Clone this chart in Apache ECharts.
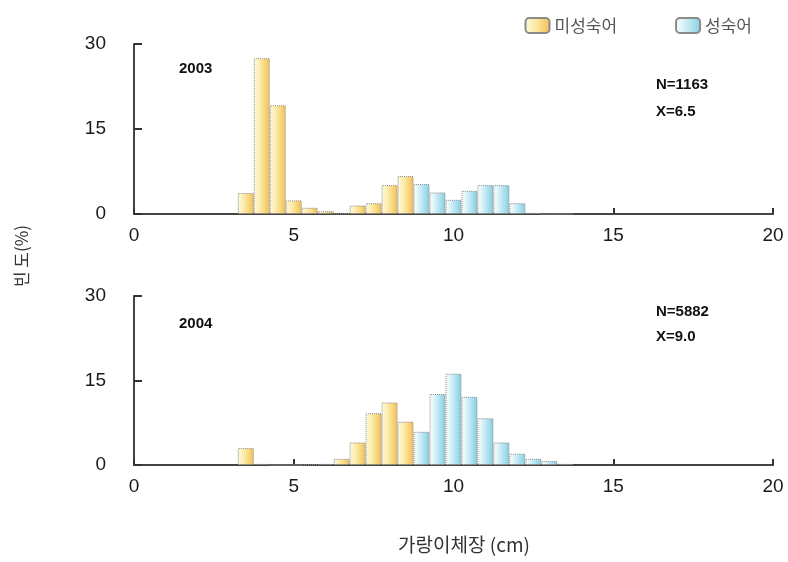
<!DOCTYPE html>
<html>
<head>
<meta charset="utf-8">
<script src="https://cdn.jsdelivr.net/npm/echarts@6/dist/echarts.min.js"></script>
<style>
html,body{margin:0;padding:0;background:#fff;}
#c{width:788px;height:562px;}
</style>
</head>
<body>
<div id="c"></div>
<script>
// Bin centres (cm), 0.5 cm classes
var binsImmature = [3.5, 4.0, 4.5, 5.0, 5.5, 6.0, 6.5, 7.0, 7.5, 8.0, 8.5];
var binsMature   = [9.0, 9.5, 10.0, 10.5, 11.0, 11.5, 12.0, 12.5, 13.0, 13.5];
// Frequencies (%)
var immature2003 = [3.7, 27.5, 19.2, 2.4, 1.1, 0.5, 0.1, 1.5, 1.9, 5.1, 6.7];
var mature2003   = [5.3, 3.8, 2.5, 4.1, 5.1, 5.1, 1.9, 0.2, 0, 0];
var immature2004 = [3.0, 0.2, 0, 0, 0.1, 0.2, 1.1, 4.0, 9.2, 11.1, 7.7];
var mature2004   = [5.9, 12.6, 16.2, 12.1, 8.3, 4.0, 2.0, 1.1, 0.7, 0.2];
var xTicks = [0, 5, 10, 15, 20];
var yTicks = [0, 15, 30];
var seriesNames = ['미성숙어', '성숙어'];
var years = ['2003', '2004'];
var stats = [['N=1163', 'X=6.5'], ['N=5882', 'X=9.0']];

function pairs(bins, vals) { return bins.map(function (b, i) { return [b, vals[i]]; }); }

var yellow = {type:'linear', x:0, y:0, x2:1, y2:0, colorStops:[{offset:0,color:'#fffbe2'},{offset:0.45,color:'#fce8a0'},{offset:1,color:'#f4bd55'}]};
var blue = {type:'linear', x:0, y:0, x2:1, y2:0, colorStops:[{offset:0,color:'#ffffff'},{offset:0.45,color:'#c8ecf4'},{offset:1,color:'#86cde2'}]};

var chart = echarts.init(document.getElementById('c'));

function xAxis(gi) {
  return {
    type:'value', gridIndex:gi, min:xTicks[0], max:xTicks[xTicks.length-1], interval:5,
    axisLine:{show:true, lineStyle:{color:'#444', width:2}},
    axisTick:{show:true, inside:true, length:6, lineStyle:{color:'#333', width:2}},
    axisLabel:{color:'#1a1a1a', fontSize:19, fontFamily:'Liberation Sans', margin:12},
    splitLine:{show:false}
  };
}
function yAxis(gi) {
  return {
    type:'value', gridIndex:gi, min:yTicks[0], max:yTicks[yTicks.length-1], interval:15,
    axisLine:{show:true, lineStyle:{color:'#444', width:2}},
    axisTick:{show:true, inside:true, length:8, lineStyle:{color:'#333', width:2}},
    axisLabel:{color:'#1a1a1a', fontSize:19, fontFamily:'Liberation Sans', margin:28},
    splitLine:{show:false}
  };
}
function bar(name, gi, data, color) {
  return {
    name:name, type:'bar', xAxisIndex:gi, yAxisIndex:gi, data:data,
    barWidth:16, barGap:'-100%',
    itemStyle:{color:color, borderColor:'#8a8a8a', borderWidth:1, borderType:'dotted'}
  };
}

var annFont = 'bold 15px "Liberation Sans"';
var graphics = [];
graphics.push({type:'text', left:179, top:61, style:{text:years[0], font:annFont, fill:'#111'}});
graphics.push({type:'text', left:179, top:316, style:{text:years[1], font:annFont, fill:'#111'}});
graphics.push({type:'text', left:656, top:77, style:{text:stats[0][0], font:annFont, fill:'#111'}});
graphics.push({type:'text', left:656, top:104, style:{text:stats[0][1], font:annFont, fill:'#111'}});
graphics.push({type:'text', left:656, top:304, style:{text:stats[1][0], font:annFont, fill:'#111'}});
graphics.push({type:'text', left:656, top:329, style:{text:stats[1][1], font:annFont, fill:'#111'}});
graphics.push({type:'text', x:22, y:256, rotation:Math.PI/2, style:{text:'빈 도(%)', font:'17px "Noto Sans CJK KR"', fill:'#333', align:'center', verticalAlign:'middle'}});
graphics.push({type:'text', x:464, y:545, style:{text:'가랑이체장 (cm)', font:'19px "Noto Sans CJK KR"', fill:'#333', align:'center', verticalAlign:'middle'}});

chart.setOption({
  animation:false,
  backgroundColor:'#fff',
  legend:{
    top:12, right:31, itemGap:58, itemWidth:24, itemHeight:15,
    data:[{name:seriesNames[0], itemStyle:{color:yellow}}, {name:seriesNames[1], itemStyle:{color:blue}}],
    textStyle:{color:'#555', fontSize:17, fontFamily:'Noto Sans CJK KR'}
  },
  grid:[
    {left:134, right:15, top:44, height:170},
    {left:134, right:15, top:296, height:169}
  ],
  xAxis:[xAxis(0), xAxis(1)],
  yAxis:[yAxis(0), yAxis(1)],
  series:[
    bar(seriesNames[0], 0, pairs(binsImmature, immature2003), yellow),
    bar(seriesNames[1], 0, pairs(binsMature, mature2003), blue),
    bar(seriesNames[0], 1, pairs(binsImmature, immature2004), yellow),
    bar(seriesNames[1], 1, pairs(binsMature, mature2004), blue)
  ],
  graphic:graphics
});
</script>
</body>
</html>
